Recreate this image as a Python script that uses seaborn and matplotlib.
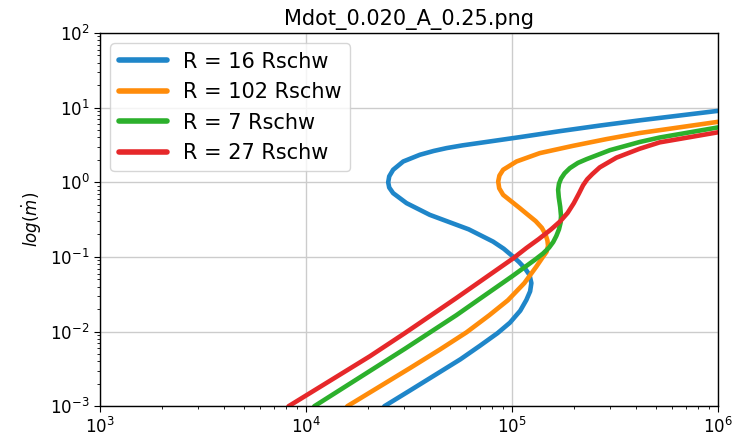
import numpy as np
import pandas as pd
import seaborn as sns
import matplotlib
matplotlib.use("Agg")
import matplotlib.pyplot as plt

# S-curves (log10 of x and of mdot)
labels = ["R = 16 Rschw", "R = 102 Rschw", "R = 7 Rschw", "R = 27 Rschw"]
colors = ["#1f86c9", "#ff8c0a", "#2cb02c", "#e6282a"]

logx_r16 = [4.38, 4.504, 4.633, 4.75, 4.844, 4.93, 4.99, 5.04, 5.07, 5.088,
            5.094, 5.085, 5.062, 5.035, 5.005, 4.96, 4.908, 4.79, 4.601, 4.488,
            4.423, 4.404, 4.399, 4.404, 4.423, 4.472, 4.553, 4.62, 4.682, 4.76,
            4.844, 5.038, 5.232, 5.426, 5.62, 6.0]
logy_r16 = [-3.0, -2.79, -2.57, -2.37, -2.19, -2.02, -1.88, -1.72, -1.575, -1.46,
            -1.35, -1.24, -1.15, -1.07, -0.995, -0.89, -0.794, -0.63, -0.436, -0.279,
            -0.145, -0.07, 0.0, 0.08, 0.168, 0.279, 0.369, 0.42, 0.458, 0.495,
            0.528, 0.605, 0.685, 0.76, 0.83, 0.957]

logx_r102 = [4.20, 4.504, 4.65, 4.779, 4.89, 4.98, 5.06, 5.118, 5.15, 5.168,
             5.175, 5.172, 5.163, 5.145, 5.115, 5.075, 5.038, 4.957, 4.938, 4.933,
             4.939, 4.957, 5.022, 5.135, 5.297, 5.459, 5.62, 6.0]
logy_r102 = [-3.0, -2.49, -2.24, -2.01, -1.78, -1.58, -1.35, -1.13, -1.0, -0.93,
             -0.85, -0.78, -0.70, -0.61, -0.52, -0.43, -0.346, -0.168, -0.08, 0.011,
             0.09, 0.168, 0.279, 0.391, 0.489, 0.579, 0.66, 0.81]

logx_r7 = [4.04, 4.48, 4.73, 4.844, 5.0, 5.11, 5.15, 5.18, 5.20, 5.215,
           5.228, 5.236, 5.238, 5.234, 5.227, 5.224, 5.228, 5.238, 5.255, 5.281,
           5.32, 5.362, 5.475, 5.62, 5.717, 6.0]
logy_r7 = [-3.0, -2.23, -1.78, -1.56, -1.26, -1.04, -0.955, -0.875, -0.80, -0.72,
           -0.63, -0.54, -0.45, -0.33, -0.20, -0.10, -0.02, 0.05, 0.12, 0.19,
           0.26, 0.31, 0.43, 0.54, 0.60, 0.735]

logx_r27 = [3.915, 4.31, 4.48, 4.73, 5.005, 5.07, 5.13, 5.19, 5.235, 5.27,
            5.30, 5.325, 5.345, 5.365, 5.39, 5.426, 5.507, 5.62, 5.717, 6.0]
logy_r27 = [-3.0, -2.33, -2.02, -1.55, -1.02, -0.88, -0.76, -0.63, -0.52, -0.41,
            -0.28, -0.15, -0.04, 0.04, 0.11, 0.20, 0.33, 0.45, 0.535, 0.67]

frames = []
for lab, lx, ly in zip(labels,
                       [logx_r16, logx_r102, logx_r7, logx_r27],
                       [logy_r16, logy_r102, logy_r7, logy_r27]):
    d = pd.DataFrame({"x": np.power(10.0, lx), "mdot": np.power(10.0, ly)})
    d["curve"] = lab
    frames.append(d)
df = pd.concat(frames, ignore_index=True)

sns.set_style("ticks", {"axes.grid": True, "grid.color": ".8"})
plt.rcParams["font.family"] = ["DejaVu Sans"]
plt.rcParams["text.color"] = "black"
plt.rcParams["axes.labelcolor"] = "black"

fig = plt.figure(figsize=(7.37, 4.37), dpi=100)
ax = fig.add_axes([0.1357, 0.0703, 0.8385, 0.8542])

sns.lineplot(data=df, x="x", y="mdot", hue="curve", hue_order=labels,
             palette=colors, sort=False, estimator=None, linewidth=3.3, ax=ax)

ax.set_xscale("log")
ax.set_yscale("log")
ax.set_xlim(1e3, 1e6)
ax.set_ylim(1e-3, 1e2)
ax.grid(True, which="major", color=".8", linewidth=1)
ax.grid(False, which="minor")
for s in ax.spines.values():
    s.set_color("black")
    s.set_linewidth(1)
ax.tick_params(axis="both", which="both", direction="out", colors="black", labelsize=12)
ax.tick_params(which="major", length=4)
ax.tick_params(which="minor", length=2.5)

ax.set_xlabel("")
ax.set_ylabel(r"$log(\dot{m})$", fontsize=12)
ax.set_title("Mdot_0.020_A_0.25.png", fontsize=15, color="black")

leg = ax.legend(loc="upper left", fontsize=15, handlelength=2.3, framealpha=0.8)
for line in leg.get_lines():
    line.set_linewidth(4)

fig.savefig("out.png", dpi=100)
